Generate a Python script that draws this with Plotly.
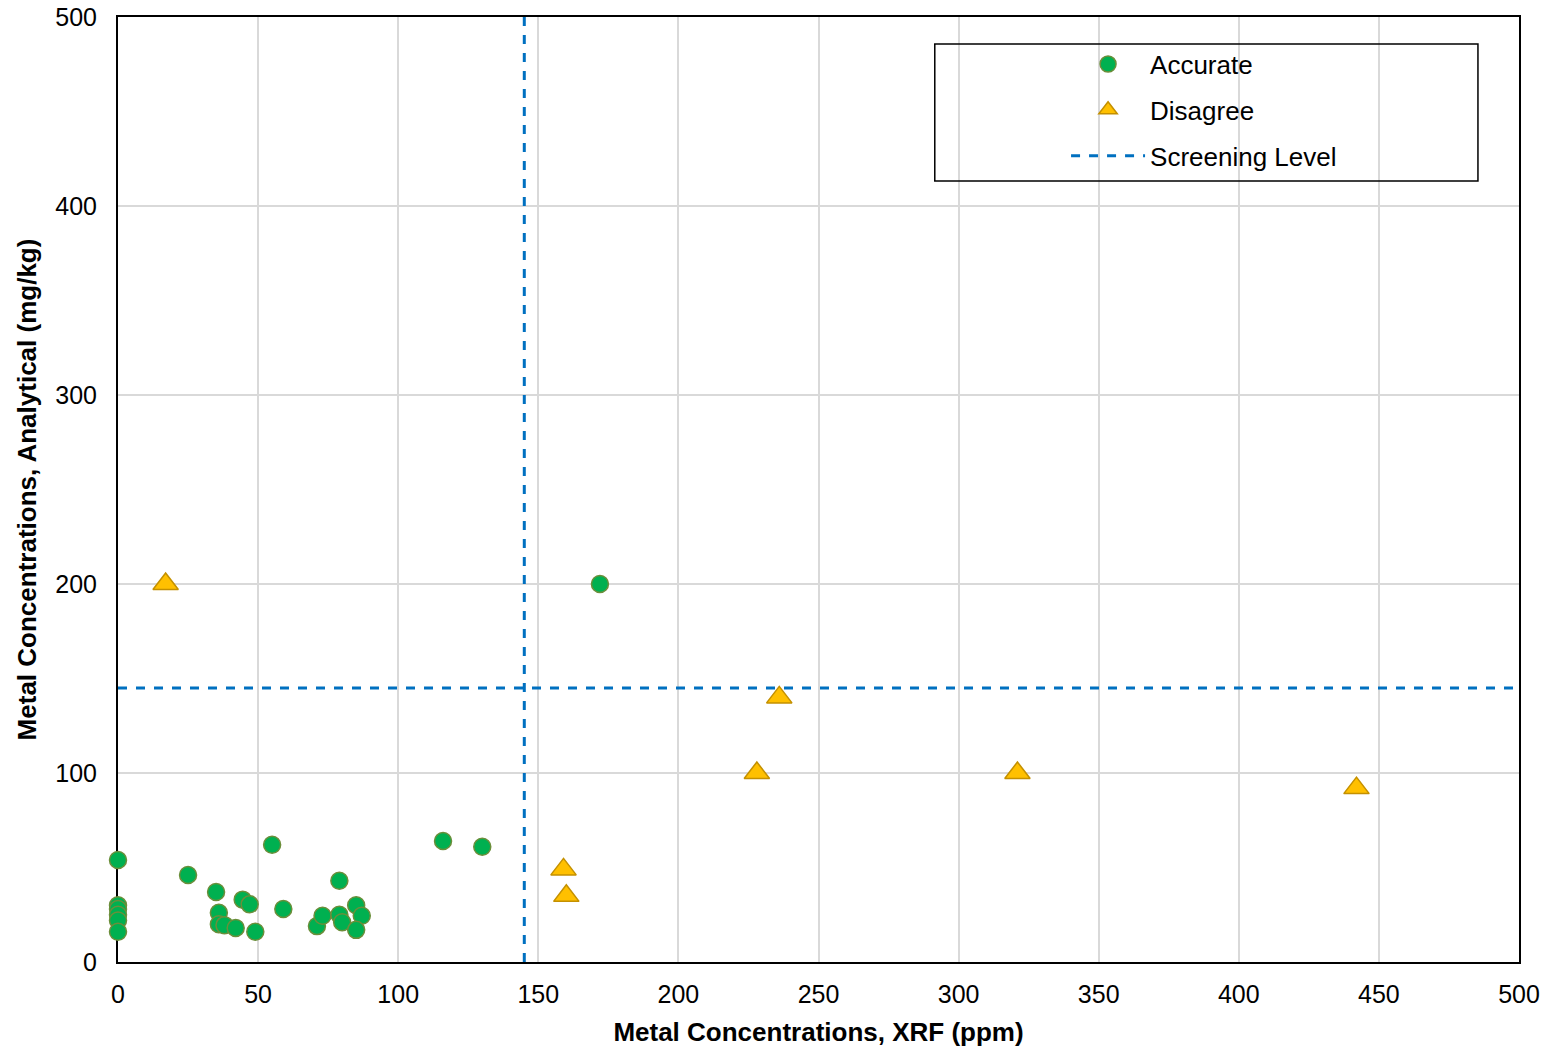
import plotly.graph_objects as go

# Accurate (green circles)
acc_x = [0, 0, 0, 0, 0, 0, 25, 35, 36, 36, 38, 42, 44.5, 47, 49, 55, 59, 71, 73, 79, 79, 80, 85, 87, 85, 116, 130, 172]
acc_y = [54, 30, 28, 25, 22, 16, 46, 37, 26, 20, 19.5, 18, 33, 30.5, 16, 62, 28, 19, 24.5, 43, 25, 21, 30, 24.5, 17, 64, 61, 200]

# Disagree (yellow triangles)
dis_x = [17, 159, 160, 228, 236, 321, 442]
dis_y = [200, 49, 35, 100, 140, 100, 92]

screening = 145
axis_range = [0, 500]
x_ticks = [0, 50, 100, 150, 200, 250, 300, 350, 400, 450, 500]
y_ticks = [0, 100, 200, 300, 400, 500]

fig = go.Figure()

fig.add_trace(go.Scatter(
    x=[screening, screening], y=axis_range, mode="lines", name="Screening Level",
    legendgroup="c", showlegend=False,
    line=dict(color="#0070C0", width=3, dash="dash"),
))
fig.add_trace(go.Scatter(
    x=acc_x, y=acc_y, mode="markers", name="Accurate", legendgroup="a",
    cliponaxis=False,
    marker=dict(symbol="circle", size=17, color="#00B050",
                line=dict(color="#6B8E3A", width=1.5)),
))
fig.add_trace(go.Scatter(
    x=dis_x, y=dis_y, mode="markers", name="Disagree", legendgroup="b",
    cliponaxis=False,
    marker=dict(symbol="triangle-up", size=22, color="#FFC000",
                line=dict(color="#C49000", width=1.5)),
))
fig.add_trace(go.Scatter(
    x=axis_range, y=[screening, screening], mode="lines", name="Screening Level",
    legendgroup="c", line=dict(color="#0070C0", width=3, dash="dash"),
))

font_family = "Liberation Sans, Arial, sans-serif"
axis_common = dict(
    range=axis_range, showgrid=True, gridcolor="#D9D9D9", gridwidth=1.5,
    showline=True, linecolor="black", linewidth=2, mirror=True, zeroline=False,
    ticks="", automargin=False, layer="below traces",
    tickfont=dict(size=25, color="black", family=font_family),
)

fig.update_layout(
    width=1556, height=1053,
    margin=dict(l=118, r=37, t=17, b=91),
    plot_bgcolor="white", paper_bgcolor="white",
    font=dict(family=font_family, color="black"),
    xaxis=dict(**axis_common, tickvals=x_ticks, ticklabelstandoff=9,
               title=dict(text="<b>Metal Concentrations, XRF (ppm)</b>",
                          font=dict(size=26, family=font_family), standoff=16)),
    yaxis=dict(**axis_common, tickvals=y_ticks, ticklabelstandoff=14,
               title=dict(text="<b>Metal Concentrations, Analytical (mg/kg)</b>",
                          font=dict(size=26, family=font_family), standoff=11)),
    legend=dict(x=0.6767, y=0.975, xanchor="left", yanchor="top",
                bgcolor="rgba(0,0,0,0)", borderwidth=0,
                font=dict(size=26, family=font_family, color="black"),
                tracegroupgap=9, itemwidth=74, traceorder="grouped"),
    shapes=[dict(type="rect", xref="paper", yref="paper",
                 x0=0.583, x1=0.9707, y0=0.8265, y1=0.9714,
                 line=dict(color="black", width=1.5), fillcolor="rgba(0,0,0,0)")],
)

fig.write_html("out.html")
